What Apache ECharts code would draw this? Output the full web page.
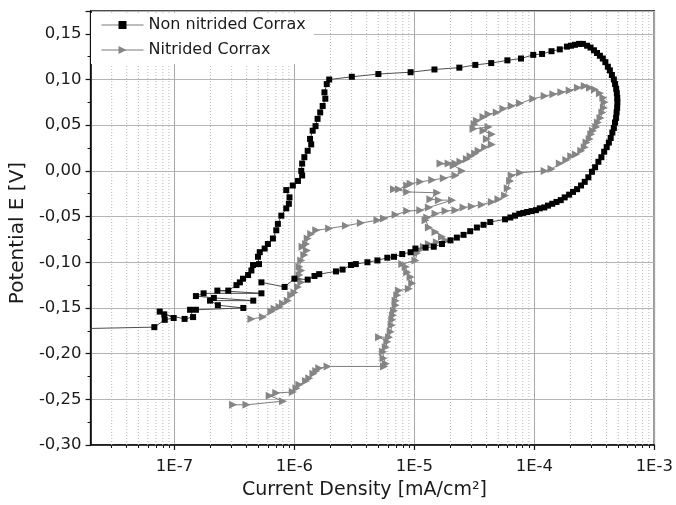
<!DOCTYPE html>
<html>
<head>
<meta charset="utf-8">
<script src="https://cdn.jsdelivr.net/npm/echarts@6/dist/echarts.min.js"></script>
<style>
  html, body { margin: 0; padding: 0; background: #fff; }
  #chart { width: 676px; height: 505px; }
</style>
</head>
<body>
<div id="chart"></div>
<script>
// current density [mA/cm2] and potential [V], in scan order
const nonNitridedI = [
  1.0e-9, 6.8e-8, 8.3e-8, 9.85e-8, 7.54e-8, 8.22e-8, 1.215e-7, 1.43e-7, 1.35e-7, 1.51e-7,
  3.75e-7, 2.30e-7, 1.98e-7, 4.54e-7, 2.13e-7, 1.51e-7, 1.75e-7, 5.31e-7, 2.28e-7, 2.81e-7,
  3.29e-7, 3.51e-7, 3.73e-7, 4.11e-7, 4.38e-7, 4.52e-7, 5.07e-7, 4.97e-7, 5.14e-7, 5.65e-7,
  6.01e-7, 6.62e-7, 7.06e-7, 7.28e-7, 7.78e-7, 8.55e-7, 8.99e-7, 9.10e-7, 8.55e-7, 9.70e-7,
  1.07e-6, 1.16e-6, 1.14e-6, 1.16e-6, 1.21e-6, 1.29e-6, 1.38e-6, 1.35e-6, 1.42e-6, 1.50e-6,
  1.56e-6, 1.64e-6, 1.72e-6, 1.81e-6, 1.78e-6, 1.86e-6, 1.95e-6,
  3.01e-6, 5.01e-6, 9.30e-6, 1.47e-5, 2.37e-5, 3.22e-5, 4.37e-5, 5.96e-5, 7.74e-5, 9.79e-5,
  1.16e-4, 1.39e-4, 1.63e-4,
  1.87e-4, 2.02e-4, 2.18e-4, 2.36e-4, 2.54e-4, 2.75e-4, 2.94e-4, 3.14e-4, 3.33e-4, 3.52e-4,
  3.72e-4, 3.91e-4, 4.10e-4, 4.26e-4, 4.43e-4, 4.60e-4, 4.71e-4, 4.81e-4, 4.87e-4, 4.91e-4,
  4.92e-4, 4.90e-4, 4.85e-4, 4.80e-4, 4.70e-4, 4.60e-4, 4.47e-4, 4.33e-4, 4.18e-4, 4.01e-4,
  3.82e-4, 3.62e-4, 3.42e-4, 3.21e-4, 3.02e-4, 2.82e-4, 2.63e-4, 2.45e-4, 2.27e-4, 2.10e-4,
  1.95e-4, 1.79e-4, 1.66e-4, 1.53e-4, 1.41e-4, 1.30e-4, 1.21e-4, 1.11e-4, 1.03e-4, 9.48e-5,
  8.73e-5, 8.09e-5, 7.50e-5, 6.90e-5, 6.31e-5, 5.70e-5,
  4.29e-5, 3.77e-5, 3.32e-5, 2.92e-5, 2.57e-5, 2.26e-5, 2.00e-5, 1.70e-5, 1.45e-5, 1.24e-5,
  1.02e-5, 9.30e-6, 7.92e-6, 6.76e-6, 5.95e-6, 4.92e-6, 4.06e-6, 3.25e-6, 2.96e-6, 2.52e-6,
  2.22e-6, 1.61e-6, 1.47e-6, 1.29e-6, 1.00e-6, 8.28e-7, 5.31e-7
];
const nonNitridedE = [
  -0.176, -0.171, -0.163, -0.161, -0.154, -0.157, -0.162, -0.160, -0.152, -0.152,
  -0.150, -0.147, -0.142, -0.142, -0.139, -0.137, -0.134, -0.134, -0.131, -0.131,
  -0.125, -0.122, -0.118, -0.114, -0.109, -0.103, -0.102, -0.094, -0.089, -0.085,
  -0.080, -0.074, -0.065, -0.058, -0.049, -0.041, -0.036, -0.029, -0.021, -0.016,
  -0.011, -0.005, 0.000, 0.008, 0.015, 0.022, 0.029, 0.035, 0.044, 0.049,
  0.057, 0.064, 0.071, 0.079, 0.086, 0.095, 0.100,
  0.103, 0.106, 0.108, 0.111, 0.113, 0.116, 0.118, 0.121, 0.123, 0.127,
  0.128, 0.131, 0.133,
  0.136, 0.137, 0.138, 0.139, 0.139, 0.137, 0.135, 0.132, 0.129, 0.126,
  0.123, 0.119, 0.114, 0.110, 0.105, 0.100, 0.095, 0.090, 0.085, 0.080,
  0.075, 0.069, 0.064, 0.058, 0.053, 0.047, 0.042, 0.036, 0.031, 0.026,
  0.021, 0.015, 0.010, 0.004, -0.001, -0.007, -0.012, -0.016, -0.020, -0.023,
  -0.026, -0.029, -0.032, -0.034, -0.036, -0.038, -0.040, -0.041, -0.043, -0.044,
  -0.045, -0.046, -0.047, -0.049, -0.051, -0.053,
  -0.056, -0.059, -0.062, -0.066, -0.070, -0.073, -0.076, -0.080, -0.083, -0.084,
  -0.085, -0.089, -0.091, -0.094, -0.095, -0.098, -0.100, -0.102, -0.103, -0.108,
  -0.110, -0.113, -0.115, -0.119, -0.118, -0.127, -0.122
];

const nitridedI = [
  3.08e-7, 3.98e-7, 8.02e-7, 6.22e-7, 7.06e-7, 9.70e-7, 1.04e-6, 1.10e-6, 1.25e-6, 1.33e-6,
  1.44e-6, 1.52e-6, 1.61e-6, 1.89e-6, 5.58e-6, 5.77e-6, 5.53e-6, 5.48e-6, 5.77e-6, 5.95e-6,
  5.08e-6, 6.15e-6, 6.35e-6, 6.47e-6, 6.55e-6, 6.64e-6, 6.76e-6, 6.98e-6, 6.98e-6, 7.20e-6,
  7.43e-6, 9.00e-6, 9.59e-6, 9.30e-6, 8.71e-6, 8.45e-6, 7.92e-6, 1.02e-5, 1.05e-5, 1.09e-5,
  1.20e-5, 1.32e-5, 1.54e-5, 1.82e-5, 1.70e-5, 1.50e-5, 1.32e-5, 1.24e-5, 1.28e-5, 1.50e-5,
  1.82e-5, 2.20e-5, 2.57e-5, 3.01e-5, 3.65e-5, 4.42e-5, 5.02e-5, 5.70e-5, 6.00e-5, 6.28e-5,
  6.47e-5, 7.60e-5, 1.22e-4, 1.39e-4, 1.63e-4, 1.85e-4, 2.03e-4, 2.22e-4, 2.46e-4, 2.63e-4,
  2.72e-4, 2.89e-4, 2.98e-4, 3.08e-4, 3.28e-4, 3.39e-4, 3.56e-4, 3.69e-4, 3.80e-4, 3.85e-4,
  3.76e-4, 3.52e-4, 3.20e-4, 2.91e-4, 2.63e-4, 2.31e-4, 1.97e-4, 1.68e-4, 1.44e-4, 1.22e-4,
  9.79e-5, 7.60e-5, 6.47e-5, 5.52e-5, 4.86e-5, 4.15e-5, 3.77e-5, 3.32e-5, 3.18e-5, 3.11e-5,
  4.15e-5, 3.77e-5, 4.42e-5, 4.02e-5, 4.42e-5, 3.89e-5, 3.43e-5, 3.21e-5, 2.94e-5, 2.74e-5,
  2.42e-5, 2.20e-5, 1.93e-5, 1.65e-5, 2.13e-5, 2.49e-5, 2.20e-5, 1.76e-5, 1.41e-5, 1.12e-5,
  9.30e-6, 8.71e-6, 7.43e-6, 6.76e-6, 8.71e-6, 1.55e-5, 1.36e-5, 1.60e-5, 2.06e-5, 1.32e-5,
  1.12e-5, 8.71e-6, 6.98e-6, 5.58e-6, 4.92e-6, 3.58e-6, 2.69e-6, 1.95e-6, 1.52e-6, 1.38e-6,
  1.29e-6, 1.25e-6, 1.17e-6, 1.27e-6, 1.21e-6, 1.14e-6, 1.10e-6, 1.14e-6, 1.10e-6, 1.07e-6,
  1.14e-6, 1.07e-6, 1.00e-6, 9.40e-7, 8.81e-7, 8.02e-7, 7.52e-7, 6.84e-7, 6.43e-7, 5.47e-7,
  4.38e-7
];
const nitridedE = [
  -0.256, -0.256, -0.252, -0.246, -0.243, -0.242, -0.238, -0.234, -0.230, -0.227,
  -0.222, -0.219, -0.216, -0.214, -0.214, -0.211, -0.205, -0.198, -0.193, -0.187,
  -0.182, -0.182, -0.176, -0.169, -0.163, -0.158, -0.153, -0.147, -0.142, -0.136,
  -0.131, -0.129, -0.123, -0.116, -0.111, -0.105, -0.102, -0.098, -0.090, -0.087,
  -0.083, -0.080, -0.078, -0.076, -0.072, -0.067, -0.062, -0.054, -0.051, -0.047,
  -0.044, -0.043, -0.040, -0.039, -0.037, -0.034, -0.031, -0.027, -0.019, -0.011,
  -0.005, -0.002, 0.000, 0.002, 0.008, 0.012, 0.016, 0.018, 0.022, 0.026,
  0.031, 0.035, 0.040, 0.044, 0.048, 0.053, 0.058, 0.064, 0.069, 0.075,
  0.080, 0.085, 0.089, 0.091, 0.093, 0.091, 0.088, 0.086, 0.084, 0.082,
  0.079, 0.074, 0.071, 0.068, 0.064, 0.062, 0.059, 0.055, 0.051, 0.046,
  0.048, 0.044, 0.040, 0.035, 0.029, 0.026, 0.022, 0.019, 0.016, 0.013,
  0.010, 0.008, 0.008, 0.008, 0.006, 0.000, -0.005, -0.008, -0.010, -0.012,
  -0.014, -0.016, -0.020, -0.020, -0.023, -0.024, -0.031, -0.032, -0.032, -0.040,
  -0.043, -0.044, -0.048, -0.052, -0.054, -0.057, -0.060, -0.063, -0.065, -0.069,
  -0.074, -0.080, -0.083, -0.087, -0.092, -0.098, -0.105, -0.109, -0.114, -0.118,
  -0.122, -0.127, -0.133, -0.136, -0.142, -0.145, -0.149, -0.151, -0.154, -0.160,
  -0.162
];

// axis ranges and ticks
const xMin = 2e-8, xMax = 1e-3;
const yMin = -0.30, yMax = 0.175;
const xMajorTicks = [1e-7, 1e-6, 1e-5, 1e-4, 1e-3];
const xDecades = [1e-8, 1e-7, 1e-6, 1e-5, 1e-4];
const xMinorFactors = [2, 3, 4, 5, 6, 7, 8, 9];

const xMinorTicks = [];
xDecades.forEach(function (d) {
  xMinorFactors.forEach(function (f) {
    const v = f * d;
    if (v > 2.05e-8 && v < 1e-3) xMinorTicks.push(v);
  });
});

// dotted minor grid: one vertical segment per minor tick, broken by '-'
const minorGrid = [];
xMinorTicks.forEach(function (v) {
  minorGrid.push([v, yMin], [v, yMax], [v, '-']);
});

function zip(a, b) {
  return a.map(function (v, i) { return [v, b[i]]; });
}

const font = 'DejaVu Sans, Liberation Sans, Arial, sans-serif';
const triangleRight = 'path://M0,0 L10,5 L0,10 Z';

const chart = echarts.init(document.getElementById('chart'));

const option = {
  animation: false,
  backgroundColor: '#fff',
  grid: {
    left: 89, right: 19, top: 11, bottom: 59,
    show: true, borderColor: '#111', borderWidth: 1.5, backgroundColor: 'transparent'
  },
  legend: {
    orient: 'vertical',
    left: 91, top: 13,
    padding: [4, 8, 6, 10],
    itemGap: 9,
    itemWidth: 42, itemHeight: 10,
    backgroundColor: '#fff',
    data: ['Non nitrided Corrax', 'Nitrided Corrax'],
    lineStyle: { color: '#7a7a7a', width: 1 },
    textStyle: { fontFamily: font, fontSize: 16, color: '#1a1a1a' }
  },
  xAxis: [{
    type: 'log',
    logBase: 10,
    min: xMin,
    max: xMax,
    name: 'Current Density [mA/cm²]',
    nameLocation: 'middle',
    nameGap: 36,
    nameTextStyle: { fontFamily: font, fontSize: 19, color: '#1a1a1a', padding: [0, 16, 0, 0] },
    axisLine: { show: true, onZero: false, lineStyle: { color: '#111', width: 1.5 } },
    axisTick: { show: true, length: 5, customValues: xMajorTicks, lineStyle: { color: '#111', width: 1.2 } },
    axisLabel: {
      customValues: xMajorTicks,
      margin: 13,
      fontFamily: font, fontSize: 16.5, color: '#1a1a1a',
      formatter: function (v) { return '1E' + Math.round(Math.log10(v)); }
    },
    splitLine: { show: true, lineStyle: { color: '#a8a8a8', width: 1 } }
  }, {
    type: 'log',
    logBase: 10,
    min: xMin,
    max: xMax,
    position: 'bottom',
    axisLine: { show: false, onZero: false },
    axisTick: { show: true, length: 3, customValues: xMinorTicks, lineStyle: { color: '#111', width: 1 } },
    axisLabel: { show: false },
    splitLine: { show: false }
  }],
  yAxis: {
    type: 'value',
    min: yMin,
    max: yMax,
    interval: 0.05,
    name: 'Potential E [V]',
    nameLocation: 'middle',
    nameGap: 52,
    nameTextStyle: { fontFamily: font, fontSize: 20, color: '#1a1a1a', padding: [0, 10, 0, 0] },
    axisLine: { show: true, onZero: false, lineStyle: { color: '#111', width: 1.5 } },
    axisTick: { show: true, length: 5, lineStyle: { color: '#111', width: 1.2 } },
    minorTick: { show: true, splitNumber: 2, length: 3, lineStyle: { color: '#111', width: 1 } },
    axisLabel: {
      margin: 9,
      fontFamily: font, fontSize: 16.5, color: '#1a1a1a',
      formatter: function (v) {
        if (v > 0.151) return '';
        return v.toFixed(2).replace('.', ',');
      }
    },
    splitLine: { show: true, lineStyle: { color: '#b4b4b4', width: 1 } }
  },
  series: [{
    name: 'minor grid',
    type: 'line',
    data: minorGrid,
    z: 1,
    silent: true,
    showSymbol: false,
    symbol: 'none',
    connectNulls: false,
    lineStyle: { color: '#b8b8b8', type: [1, 2], width: 1 }
  }, {
    name: 'Non nitrided Corrax',
    type: 'line',
    z: 4,
    clip: false,
    data: zip(nonNitridedI, nonNitridedE),
    symbol: 'rect',
    symbolSize: 6,
    itemStyle: { color: '#000' },
    lineStyle: { color: '#3a3a3a', width: 0.9 }
  }, {
    name: 'Nitrided Corrax',
    type: 'line',
    z: 3,
    data: zip(nitridedI, nitridedE),
    symbol: triangleRight,
    symbolSize: [8, 8],
    itemStyle: { color: '#858585' },
    lineStyle: { color: '#6e6e6e', width: 0.9 }
  }]
};

chart.setOption(option);
</script>
</body>
</html>
